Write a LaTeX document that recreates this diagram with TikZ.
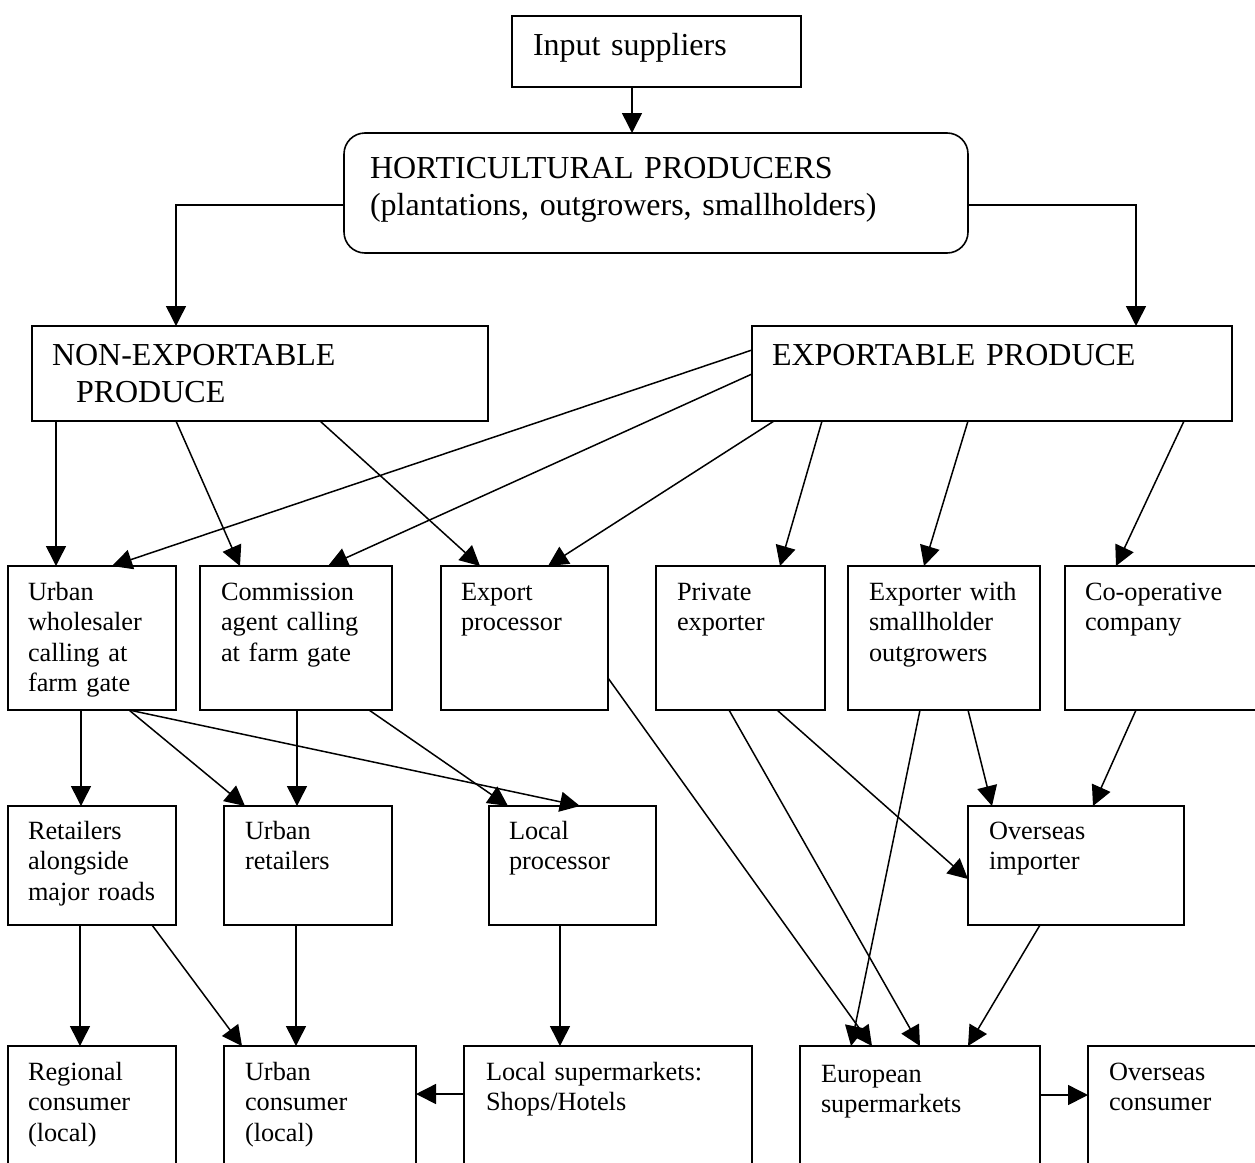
\documentclass[tikz,border=0pt]{standalone}
\usepackage{fontspec}
\setmainfont{Liberation Serif}
\usetikzlibrary{arrows.meta,calc}
\setlength{\parindent}{0pt}

\begin{document}
\begin{tikzpicture}[x=1pt,y=-1pt,
  box/.style={draw,line width=1.6pt,rectangle,anchor=north west,inner xsep=20pt,inner ysep=0pt,outer sep=0pt,align=left,font=\fontsize{26.3}{30.5}\selectfont},
  bigbox/.style={box,font=\fontsize{32}{37}\selectfont},
  arr/.style={line width=1.5pt,-{Triangle[length=20pt,width=20pt]}}]
\useasboundingbox (0,0) rectangle (1255,1162);
\clip (0,0) rectangle (1255,1162);

\node[bigbox,inner xsep=21pt,text width=247pt,text height=39pt,text depth=32pt] (ins) at (512,16) {Input suppliers};
\node[bigbox,rounded corners=21pt,inner xsep=26pt,text width=572pt,text height=45pt,text depth=75pt] (hort) at (344,133) {HORTICULTURAL PRODUCERS\\(plantations, outgrowers, smallholders)};
\node[bigbox,text width=416pt,text height=39pt,text depth=56pt] (nonexp) at (32,326) {NON-EXPORTABLE\\\hspace*{24pt}PRODUCE};
\node[bigbox,text width=440pt,text height=39pt,text depth=56pt] (exp) at (752,326) {EXPORTABLE PRODUCE};

\node[box,text width=128pt,text height=34pt,text depth=110pt] (uw) at (8,566) {Urban\\wholesaler\\calling at\\farm gate};
\node[box,inner xsep=21pt,text width=150pt,text height=34pt,text depth=110pt] (ca) at (200,566) {Commission\\agent calling\\at farm gate};
\node[box,text width=127pt,text height=34pt,text depth=110pt] (ep) at (441,566) {Export\\processor};
\node[box,inner xsep=21pt,text width=127pt,text height=34pt,text depth=110pt] (pe) at (656,566) {Private\\exporter};
\node[box,inner xsep=21pt,text width=150pt,text height=34pt,text depth=110pt] (es) at (848,566) {Exporter with\\smallholder\\outgrowers};
\node[box,text width=185pt,text height=34pt,text depth=110pt] (co) at (1065,566) {Co-operative\\company};

\node[box,text width=128pt,text height=33pt,text depth=86pt] (ra) at (8,806) {Retailers\\alongside\\major roads};
\node[box,inner xsep=21pt,text width=126pt,text height=33pt,text depth=86pt] (ur) at (224,806) {Urban\\retailers};
\node[box,text width=127pt,text height=33pt,text depth=86pt] (lp) at (489,806) {Local\\processor};
\node[box,inner xsep=21pt,text width=174pt,text height=33pt,text depth=86pt] (oi) at (968,806) {Overseas\\importer};

\node[box,text width=128pt,text height=34pt,text depth=120pt] (rc) at (8,1046) {Regional\\consumer\\(local)};
\node[box,inner xsep=21pt,text width=150pt,text height=34pt,text depth=120pt] (uc) at (224,1046) {Urban\\consumer\\(local)};
\node[box,inner xsep=22pt,text width=244pt,text height=34pt,text depth=120pt] (ls) at (464,1046) {Local supermarkets:\\Shops/Hotels};
\node[box,inner xsep=21pt,text width=198pt,text height=36pt,text depth=118pt] (eu) at (800,1046) {European\\supermarkets};
\node[box,inner xsep=21pt,text width=170pt,text height=34pt,text depth=120pt] (oc) at (1088,1046) {Overseas\\consumer};

\draw[arr] ($(ins.south west)+(120,0)$) -- ($(hort.north west)+(288,0)$);
\draw[arr] ($(hort.north west)+(0,72)$) -| ($(nonexp.north west)+(144,0)$);
\draw[arr] ($(hort.north east)+(0,72)$) -| ($(exp.north west)+(384,0)$);

\draw[arr] ($(nonexp.south west)+(24,0)$) -- ($(uw.north west)+(48,0)$);
\draw[arr] ($(nonexp.south west)+(144,0)$) -- ($(ca.north west)+(40,0)$);
\draw[arr] ($(nonexp.south west)+(288,0)$) -- ($(ep.north west)+(39,0)$);
\draw[arr] ($(exp.north west)+(0,24)$) -- ($(uw.north west)+(104,0)$);
\draw[arr] ($(exp.north west)+(0,48)$) -- ($(ca.north west)+(128,0)$);
\draw[arr] ($(exp.south west)+(22,0)$) -- ($(ep.north west)+(107,0)$);
\draw[arr] ($(exp.south west)+(70,0)$) -- ($(pe.north west)+(124,0)$);
\draw[arr] ($(exp.south west)+(216,0)$) -- ($(es.north west)+(76,0)$);
\draw[arr] ($(exp.south west)+(432,0)$) -- ($(co.north west)+(51,0)$);

\draw[arr] ($(uw.south west)+(73,0)$) -- ($(ra.north west)+(73,0)$);
\draw[arr] ($(uw.south west)+(121,0)$) -- ($(ur.north west)+(21,0)$);
\draw[arr] ($(uw.south west)+(121,0)$) -- ($(lp.north west)+(91,0)$);
\draw[arr] ($(ca.south west)+(97,0)$) -- ($(ur.north west)+(73,0)$);
\draw[arr] ($(ca.south west)+(169,0)$) -- ($(lp.north west)+(19,0)$);
\draw[arr] ($(pe.south west)+(121,0)$) -- ($(oi.north west)+(0,73)$);
\draw[arr] ($(es.south west)+(120,0)$) -- ($(oi.north west)+(24,0)$);
\draw[arr] ($(co.south west)+(71,0)$) -- ($(oi.north west)+(125,0)$);

\draw[arr] ($(ep.north east)+(0,112)$) -- ($(eu.north west)+(72,0)$);
\draw[arr] ($(pe.south west)+(73,0)$) -- ($(eu.north west)+(120,0)$);
\draw[arr] ($(es.south west)+(72,0)$) -- ($(eu.north west)+(51,0)$);
\draw[arr] ($(oi.south west)+(72,0)$) -- ($(eu.north west)+(168,0)$);

\draw[arr] ($(ra.south west)+(72,0)$) -- ($(rc.north west)+(72,0)$);
\draw[arr] ($(ra.south west)+(144,0)$) -- ($(uc.north west)+(18,0)$);
\draw[arr] ($(ur.south west)+(72,0)$) -- ($(uc.north west)+(72,0)$);
\draw[arr] ($(lp.south west)+(71,0)$) -- ($(ls.north west)+(96,0)$);
\draw[arr] ($(ls.north west)+(0,48)$) -- ($(uc.north east)+(0,48)$);
\draw[arr] ($(eu.north east)+(0,49)$) -- ($(oc.north west)+(0,49)$);
\end{tikzpicture}
\end{document}
